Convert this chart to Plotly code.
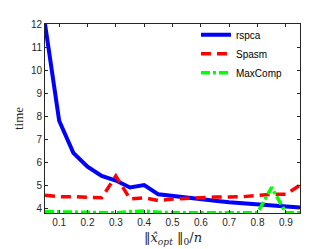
import plotly.graph_objects as go

x = [0.05, 0.10, 0.15, 0.20, 0.25, 0.30, 0.35, 0.40, 0.45, 0.50,
     0.55, 0.60, 0.65, 0.70, 0.75, 0.80, 0.85, 0.90, 0.95]
rspca = [12.0, 7.8, 6.4, 5.8, 5.4, 5.2, 4.9, 5.0, 4.6, 4.52,
         4.45, 4.38, 4.32, 4.26, 4.21, 4.16, 4.11, 4.07, 4.03]
spasm = [4.56, 4.5, 4.5, 4.46, 4.45, 5.4, 4.4, 4.45, 4.33, 4.4,
         4.43, 4.47, 4.48, 4.49, 4.5, 4.55, 4.6, 4.6, 5.0]
maxcomp = [3.85, 3.84, 3.86, 3.82, 3.82, 3.8, 3.85, 3.88, 3.82, 3.8,
           3.8, 3.8, 3.8, 3.8, 3.8, 3.8, 4.9, 3.8, 3.8]

xticks = [0.1, 0.2, 0.3, 0.4, 0.5, 0.6, 0.7, 0.8, 0.9]
yticks = [4, 5, 6, 7, 8, 9, 10, 11, 12]

fig = go.Figure()
fig.add_trace(go.Scatter(x=x, y=rspca, mode="lines", name="rspca",
                         line=dict(color="#0000ff", width=4)))
fig.add_trace(go.Scatter(x=x, y=spasm, mode="lines", name="Spasm",
                         line=dict(color="#ff0000", width=3.5, dash="10px,6px")))
fig.add_trace(go.Scatter(x=x, y=maxcomp, mode="lines", name="MaxComp",
                         line=dict(color="#00ff00", width=3.5, dash="9px,3px,3px,3px")))

axis_common = dict(showgrid=False, zeroline=False, showline=True, linecolor="#262626",
                   linewidth=1, mirror="ticks", ticks="inside", ticklen=3,
                   tickcolor="#262626", tickfont=dict(family="Liberation Sans, Arial", size=10, color="#262626"))

fig.update_layout(
    width=324, height=241,
    margin=dict(l=35, r=32, t=10, b=36),
    plot_bgcolor="white", paper_bgcolor="white",
    xaxis=dict(range=[0.05, 0.95], tickvals=xticks, ticktext=[str(v) for v in xticks],
               **axis_common),
    yaxis=dict(range=[3.79, 12], tickvals=yticks,
               title=dict(text="time", font=dict(family="Liberation Serif, serif", size=13, color="#262626"),
                          standoff=4),
               **axis_common),
    legend=dict(x=0.592, y=1.02, xanchor="left", yanchor="top", bgcolor="rgba(0,0,0,0)",
                font=dict(family="Liberation Sans, Arial", size=10, color="#000000"),
                tracegroupgap=0, itemwidth=30),
    showlegend=True,
    annotations=[dict(text="‖<i>x̂</i><sub><i>opt</i></sub> ‖<sub>0</sub>/<i>n</i>",
                      x=0.5, y=-0.135, xref="paper", yref="paper",
                      xanchor="center", yanchor="middle", showarrow=False,
                      font=dict(family="DejaVu Serif, serif", size=13, color="#262626"))],
)

fig.write_html("out.html")
